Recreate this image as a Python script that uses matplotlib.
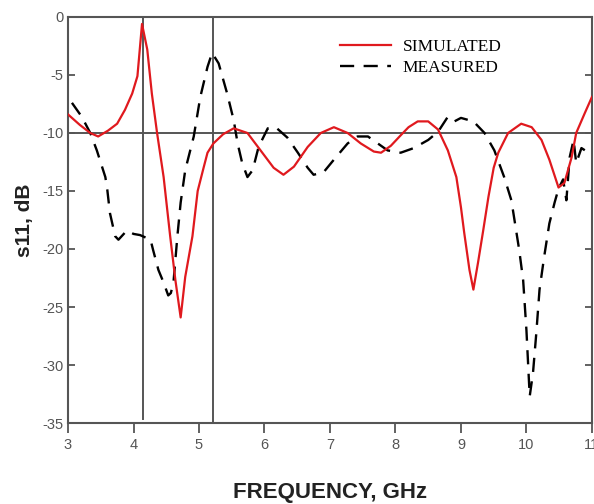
import numpy as np
import matplotlib
matplotlib.use("Agg")
import matplotlib.pyplot as plt

# simulated s11 (red, solid)
sim_f = [3.0, 3.18, 3.34, 3.46, 3.61, 3.75, 3.87, 3.98, 4.06, 4.13, 4.21, 4.28, 4.36,
         4.46, 4.56, 4.64, 4.72, 4.79, 4.9, 4.98, 5.07, 5.13, 5.22, 5.37, 5.53, 5.74,
         5.94, 6.14, 6.29, 6.45, 6.66, 6.86, 7.06, 7.27, 7.47, 7.67, 7.78, 7.93, 8.08,
         8.2, 8.34, 8.5, 8.65, 8.8, 8.93, 9.0, 9.05, 9.13, 9.19, 9.26, 9.34, 9.42, 9.5,
         9.57, 9.72, 9.92, 10.08, 10.23, 10.35, 10.49, 10.58, 10.69, 10.76, 10.89, 11.0]
sim_db = [-8.4, -9.3, -10.0, -10.3, -9.8, -9.2, -8.0, -6.6, -5.1, -0.6, -2.8, -6.6, -10.0,
          -13.8, -18.9, -22.7, -25.9, -22.4, -18.9, -15.0, -13.0, -11.7, -10.9, -10.1, -9.6,
          -10.0, -11.5, -13.0, -13.6, -12.9, -11.2, -10.0, -9.5, -10.0, -10.9, -11.6, -11.7,
          -11.1, -10.2, -9.5, -9.0, -9.0, -9.7, -11.5, -13.8, -16.4, -18.6, -21.8, -23.5,
          -21.2, -18.4, -15.5, -13.0, -11.7, -10.0, -9.2, -9.5, -10.6, -12.3, -14.7, -14.3,
          -12.1, -10.0, -8.3, -6.9]

# measured s11 (black, dashed)
meas_f = [3.06, 3.21, 3.34, 3.44, 3.57, 3.6, 3.64, 3.72, 3.77, 3.9, 4.0, 4.1, 4.26, 4.3,
          4.38, 4.46, 4.53, 4.57, 4.61, 4.67, 4.72, 4.79, 4.92, 5.02, 5.13, 5.2, 5.3, 5.43,
          5.53, 5.59, 5.66, 5.74, 5.82, 5.91, 6.05, 6.17, 6.35, 6.51, 6.66, 6.75, 6.9,
          7.06, 7.27, 7.42, 7.58, 7.73, 7.88, 8.08, 8.28, 8.5, 8.65, 8.8, 8.9, 9.0, 9.19,
          9.36, 9.51, 9.66, 9.77, 9.89, 9.95, 10.0, 10.03, 10.05, 10.1, 10.15, 10.2,
          10.27, 10.35, 10.43, 10.49, 10.56, 10.61, 10.66, 10.72, 10.76, 10.84, 10.95, 11.0]
meas_db = [-7.4, -8.6, -10.0, -11.5, -13.8, -14.9, -16.9, -18.9, -19.2, -18.4, -18.7, -18.8,
           -19.2, -20.1, -21.8, -22.9, -24.0, -23.8, -22.9, -18.9, -16.0, -13.2, -10.3, -6.9,
           -4.3, -3.1, -4.0, -6.6, -8.9, -10.9, -12.6, -13.8, -13.2, -11.2, -9.6, -9.5, -10.4,
           -11.7, -13.0, -13.6, -13.4, -12.3, -10.9, -10.3, -10.3, -10.9, -11.5, -11.7, -11.3,
           -10.6, -9.9, -8.6, -9.0, -8.7, -9.0, -10.0, -11.5, -13.8, -15.8, -20.1, -22.7,
           -27.0, -30.4, -32.7, -30.7, -27.3, -23.5, -20.7, -17.8, -16.0, -14.8, -14.0, -15.8,
           -12.1, -10.6, -12.6, -11.3, -11.7, -12.0]

marker_f = [4.15, 5.22]
ref_db = -10

xticks = [3, 4, 5, 6, 7, 8, 9, 10, 11]
yticks = [0, -5, -10, -15, -20, -25, -30, -35]

plt.rcParams['font.family'] = ['Liberation Sans', 'DejaVu Sans']
plt.rcParams['axes.unicode_minus'] = False
axcol = '#555555'

fig = plt.figure(figsize=(5.94, 5.04), dpi=100)
ax = fig.add_axes([0.1145, 0.1607, 0.882, 0.8056])

# reference lines: -10 dB level and band edges
ax.axhline(ref_db, color=axcol, lw=1.4, zorder=1)
ax.axvline(marker_f[0], ymin=0.01, ymax=1, color=axcol, lw=1.4, zorder=1)
ax.axvline(marker_f[1], color=axcol, lw=1.4, zorder=1)

ax.plot(sim_f, sim_db, color='#e0191e', lw=1.6, label='SIMULATED', zorder=3)
ax.plot(meas_f, meas_db, color='black', lw=1.7, dashes=(6, 4), label='MEASURED', zorder=2)

ax.set_xlim(3, 11)
ax.set_ylim(-35, 0)
ax.set_xticks(xticks)
ax.set_yticks(yticks)
ax.tick_params(axis='y', direction='in', length=5, width=1.3, colors=axcol,
               labelsize=10.5, right=True)
ax.tick_params(axis='x', direction='out', length=7, width=1.3, colors=axcol,
               labelsize=10.5)
for s in ax.spines.values():
    s.set_color(axcol)
    s.set_linewidth(1.5)

ax.set_xlabel('FREQUENCY, GHz', fontsize=16, fontweight='bold', color='#222222', labelpad=22)
ax.set_ylabel('s11, dB', fontsize=15, fontweight='bold', color='#222222', labelpad=6)

leg = ax.legend(loc='upper left', bbox_to_anchor=(0.49, 0.985), frameon=False,
                prop={'family': 'Liberation Serif', 'size': 12.5}, handlelength=2.9,
                handletextpad=0.7, labelspacing=0.3)

fig.savefig('out.png', dpi=100, facecolor='white')
